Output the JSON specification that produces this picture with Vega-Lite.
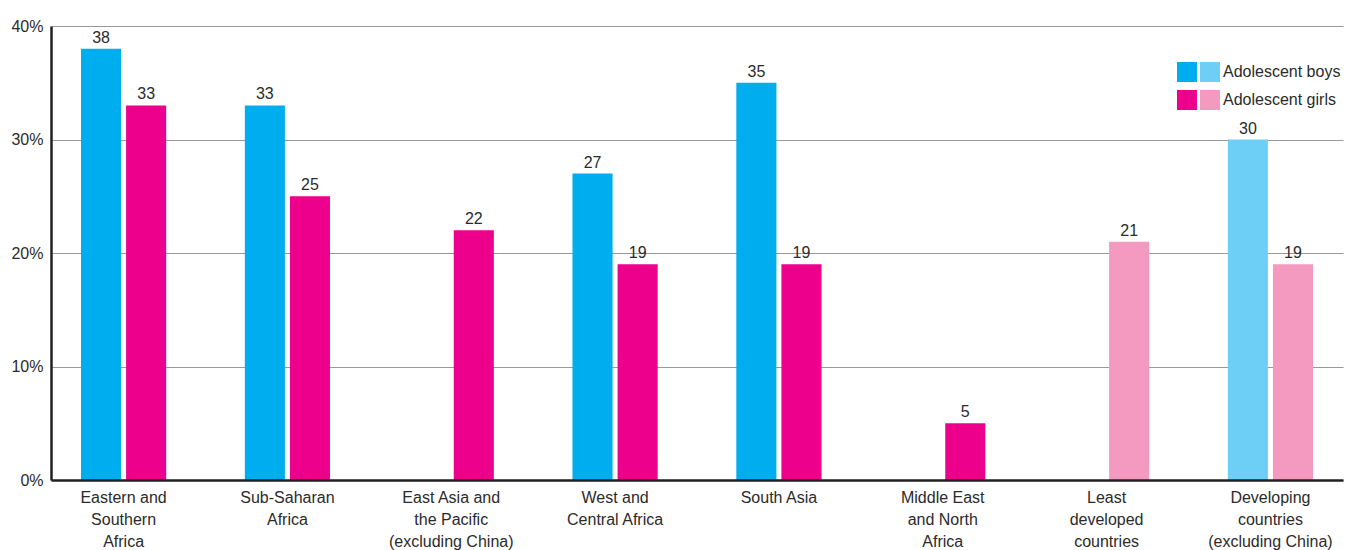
{
  "$schema": "https://vega.github.io/schema/vega-lite/v6.json",
  "width": 1292,
  "height": 454,
  "autosize": {"type": "none"},
  "padding": {"left": 51, "top": 26, "right": 3, "bottom": 70},
  "config": {
    "view": {"stroke": null},
    "font": "Liberation Sans",
    "text": {"font": "Liberation Sans"}
  },
  "data": {
    "values": [
      {"region": "Eastern and|Southern|Africa", "sex": "Boys", "series": "boys region", "value": 38},
      {"region": "Eastern and|Southern|Africa", "sex": "Girls", "series": "girls region", "value": 33},
      {"region": "Sub-Saharan|Africa", "sex": "Boys", "series": "boys region", "value": 33},
      {"region": "Sub-Saharan|Africa", "sex": "Girls", "series": "girls region", "value": 25},
      {"region": "East Asia and|the Pacific|(excluding China)", "sex": "Girls", "series": "girls region", "value": 22},
      {"region": "West and|Central Africa", "sex": "Boys", "series": "boys region", "value": 27},
      {"region": "West and|Central Africa", "sex": "Girls", "series": "girls region", "value": 19},
      {"region": "South Asia", "sex": "Boys", "series": "boys region", "value": 35},
      {"region": "South Asia", "sex": "Girls", "series": "girls region", "value": 19},
      {"region": "Middle East|and North|Africa", "sex": "Girls", "series": "girls region", "value": 5},
      {"region": "Least|developed|countries", "sex": "Girls", "series": "girls aggregate", "value": 21},
      {"region": "Developing|countries|(excluding China)", "sex": "Boys", "series": "boys aggregate", "value": 30},
      {"region": "Developing|countries|(excluding China)", "sex": "Girls", "series": "girls aggregate", "value": 19}
    ]
  },
  "encoding": {
    "x": {
      "field": "region",
      "type": "nominal",
      "sort": null,
      "scale": {"paddingInner": 0.48, "paddingOuter": 0.183},
      "axis": {
        "title": null,
        "labelAngle": 0,
        "labelExpr": "split(datum.value, '|')",
        "labelFontSize": 16,
        "labelColor": "#2b2b2b",
        "labelLineHeight": 22,
        "labelPadding": 9,
        "labelLimit": 0,
        "ticks": false,
        "domainColor": "#231f20",
        "domainWidth": 2.5,
        "zindex": 2
      }
    },
    "xOffset": {
      "field": "sex",
      "type": "nominal",
      "scale": {"domain": ["Boys", "Girls"], "paddingInner": 0.111, "paddingOuter": 0}
    },
    "y": {
      "field": "value",
      "type": "quantitative",
      "scale": {"domain": [0, 40]},
      "axis": {
        "title": null,
        "values": [0, 10, 20, 30, 40],
        "labelExpr": "datum.value + '%'",
        "ticks": false,
        "labelPadding": 8,
        "labelFontSize": 16,
        "labelColor": "#2b2b2b",
        "domainColor": "#231f20",
        "domainWidth": 2.5,
        "grid": true,
        "gridColor": "#999999",
        "gridWidth": 1
      }
    }
  },
  "layer": [
    {
      "mark": {"type": "bar"},
      "encoding": {
        "color": {
          "field": "series",
          "type": "nominal",
          "scale": {
            "domain": ["boys region", "girls region", "boys aggregate", "girls aggregate"],
            "range": ["#00AEEF", "#EC008C", "#6DCFF6", "#F49AC1"]
          },
          "legend": {
            "title": null,
            "orient": "none",
            "legendX": 1126,
            "legendY": 36,
            "columns": 2,
            "columnPadding": 0,
            "rowPadding": 8,
            "padding": 0,
            "symbolType": "square",
            "symbolSize": 400,
            "symbolStrokeWidth": 0,
            "symbolOpacity": 1,
            "labelFontSize": 16,
            "labelColor": "#2b2b2b",
            "labelOffset": 3,
            "labelLimit": 0,
            "labelExpr": "datum.label == 'boys aggregate' ? 'Adolescent boys' : datum.label == 'girls aggregate' ? 'Adolescent girls' : ''"
          }
        }
      }
    },
    {
      "mark": {"type": "text", "baseline": "bottom", "dy": -3, "fontSize": 16, "color": "#2b2b2b"},
      "encoding": {
        "text": {"field": "value", "type": "quantitative"}
      }
    }
  ]
}
